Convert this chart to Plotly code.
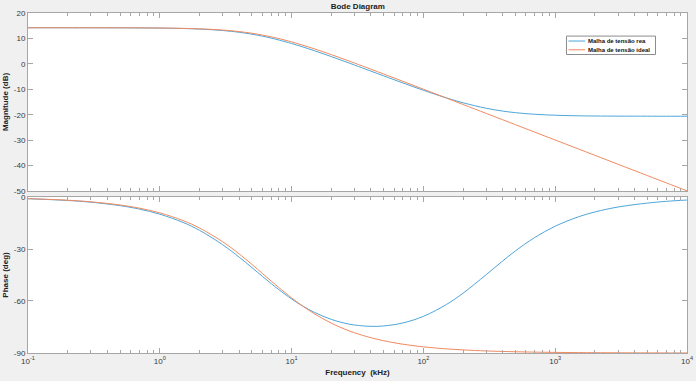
import plotly.graph_objects as go

freq_khz = [0.1, 0.2, 0.3, 0.5, 0.7, 1, 1.5, 2, 3, 4, 5, 6, 7, 8, 10, 12, 15, 20, 25, 30,
            40, 50, 70, 100, 150, 200, 300, 400, 500, 700, 1000, 1500, 2000, 3000, 5000, 7000, 10000]

mag_real_db = [14.20, 14.19, 14.19, 14.17, 14.13, 14.06, 13.90, 13.68, 13.11, 12.42, 11.67, 10.90,
               10.13, 9.39, 8.01, 6.76, 5.11, 2.86, 1.05, -0.46, -2.86, -4.73, -7.52, -10.39,
               -13.41, -15.31, -17.47, -18.58, -19.20, -19.83, -20.20, -20.43, -20.51, -20.56,
               -20.58, -20.60, -20.60]
mag_ideal_db = [14.20, 14.20, 14.19, 14.17, 14.15, 14.09, 13.95, 13.77, 13.29, 12.69, 12.03, 11.33,
                10.63, 9.94, 8.64, 7.44, 5.84, 3.63, 1.83, 0.32, -2.10, -4.00, -6.89, -9.97,
                -13.48, -15.98, -19.50, -21.99, -23.93, -26.85, -29.95, -33.47, -35.97, -39.49,
                -43.93, -46.85, -49.95]
phase_real_deg = [-1.00, -2.00, -3.00, -4.99, -6.97, -9.91, -14.66, -19.22, -27.54, -34.70, -40.73,
                  -45.76, -49.94, -53.43, -58.81, -62.68, -66.68, -70.61, -72.70, -73.84, -74.62,
                  -74.40, -72.64, -68.86, -61.95, -55.48, -44.77, -36.88, -31.07, -23.35, -16.85,
                  -11.43, -8.63, -5.77, -3.52, -2.48, -1.74]
phase_ideal_deg = [-0.92, -1.85, -2.77, -4.61, -6.44, -9.16, -13.60, -17.88, -25.82, -32.83, -38.88,
                   -44.06, -48.47, -52.22, -58.20, -62.67, -67.54, -72.78, -76.07, -78.32, -81.19,
                   -82.93, -84.94, -86.45, -87.63, -88.22, -88.82, -89.11, -89.29, -89.49, -89.64,
                   -89.76, -89.82, -89.88, -89.93, -89.95, -89.96]

mag_ticks = [20, 10, 0, -10, -20, -30, -40, -50]
phase_ticks = [0, -30, -60, -90]
x_ticks = [0.1, 1, 10, 100, 1000, 10000]
x_tick_text = ["10<sup>-1</sup>", "10<sup>0</sup>", "10<sup>1</sup>", "10<sup>2</sup>",
               "10<sup>3</sup>", "10<sup>4</sup>"]
series_names = ["Malha de tensão rea", "Malha de tensão ideal"]

BLUE = "#4ea6d9"
ORANGE = "#f08a60"
FRAME = "#a6a6a6"
TXT = "#3a3a3a"
FONT = "Liberation Sans"

minor_vals = [m * d for d in [0.1, 1, 10, 100, 1000] for m in range(2, 10)]

fig = go.Figure()
fig.add_trace(go.Scatter(x=freq_khz, y=mag_real_db, mode="lines", name=series_names[0],
                         line=dict(color=BLUE, width=1, shape="spline"), xaxis="x", yaxis="y"))
fig.add_trace(go.Scatter(x=freq_khz, y=mag_ideal_db, mode="lines", name=series_names[1],
                         line=dict(color=ORANGE, width=1, shape="spline"), xaxis="x", yaxis="y"))
fig.add_trace(go.Scatter(x=freq_khz, y=phase_real_deg, mode="lines", showlegend=False,
                         line=dict(color=BLUE, width=1, shape="spline"), xaxis="x2", yaxis="y2"))
fig.add_trace(go.Scatter(x=freq_khz, y=phase_ideal_deg, mode="lines", showlegend=False,
                         line=dict(color=ORANGE, width=1, shape="spline"), xaxis="x2", yaxis="y2"))

common_x = dict(type="log", range=[-1, 4], showgrid=False, zeroline=False, automargin=False,
                showline=True, linecolor=FRAME, linewidth=1, mirror="ticks",
                ticks="inside", ticklen=5, tickcolor=FRAME, tickwidth=1,
                tickvals=x_ticks, ticktext=x_tick_text,
                tickfont=dict(family=FONT, size=8, color=TXT),
                minor=dict(tickvals=minor_vals, ticks="inside", ticklen=3, tickcolor=FRAME, showgrid=False))
common_y = dict(showgrid=False, zeroline=False, showline=True, linecolor=FRAME, linewidth=1,
                automargin=False, mirror="ticks", ticks="inside", ticklen=5, tickcolor=FRAME, tickwidth=1,
                tickfont=dict(family=FONT, size=8, color=TXT))

# custom compact legend (MATLAB style)
legend_box = dict(x0=0.8171, x1=0.9522, y0=0.8779, y1=0.9321)
legend_rows_y = [0.9176, 0.8918]
legend_colors = [BLUE, ORANGE]
shapes = [dict(type="rect", xref="paper", yref="paper", fillcolor="#ffffff",
               line=dict(color="#8c8c8c", width=1), **legend_box)]
annotations = []
for name, col, yy in zip(series_names, legend_colors, legend_rows_y):
    shapes.append(dict(type="line", xref="paper", yref="paper", x0=0.8201, x1=0.8455, y0=yy, y1=yy,
                       line=dict(color=col, width=1)))
    annotations.append(dict(text="<b>" + name + "</b>", xref="paper", yref="paper", x=0.8470, y=yy,
                            xanchor="left", yanchor="middle", showarrow=False,
                            font=dict(family=FONT, size=6, color="#111")))

fig.update_layout(
    width=696, height=381,
    margin=dict(l=28, r=9, t=13, b=28),
    paper_bgcolor="#f0f0f0", plot_bgcolor="#ffffff",
    font=dict(family=FONT, size=8, color=TXT),
    xaxis=dict(common_x, domain=[0, 1], anchor="y", showticklabels=False),
    xaxis2=dict(common_x, domain=[0, 1], anchor="y2", matches="x",
                title=dict(text="<b>Frequency  (kHz)</b>", font=dict(family=FONT, size=8, color="#222"), standoff=4)),
    yaxis=dict(common_y, domain=[0.4765, 1], anchor="x", range=[-50, 20],
               tickvals=mag_ticks, ticktext=[str(v) for v in mag_ticks],
               title=dict(text="<b>Magnitude (dB)</b>", font=dict(family=FONT, size=8, color="#222"), standoff=4)),
    yaxis2=dict(common_y, domain=[0, 0.4588], anchor="x2", range=[-90, 0],
                tickvals=phase_ticks, ticktext=[str(v) for v in phase_ticks],
                title=dict(text="<b>Phase (deg)</b>", font=dict(family=FONT, size=8, color="#222"), standoff=4)),
    title=dict(text="<b>Bode Diagram</b>", x=0.514, xanchor="center", y=1 - 6 / 381, yanchor="middle",
               font=dict(family=FONT, size=8, color="#222")),
    showlegend=False,
    shapes=shapes,
    annotations=annotations,
)

fig.write_html("out.html")
